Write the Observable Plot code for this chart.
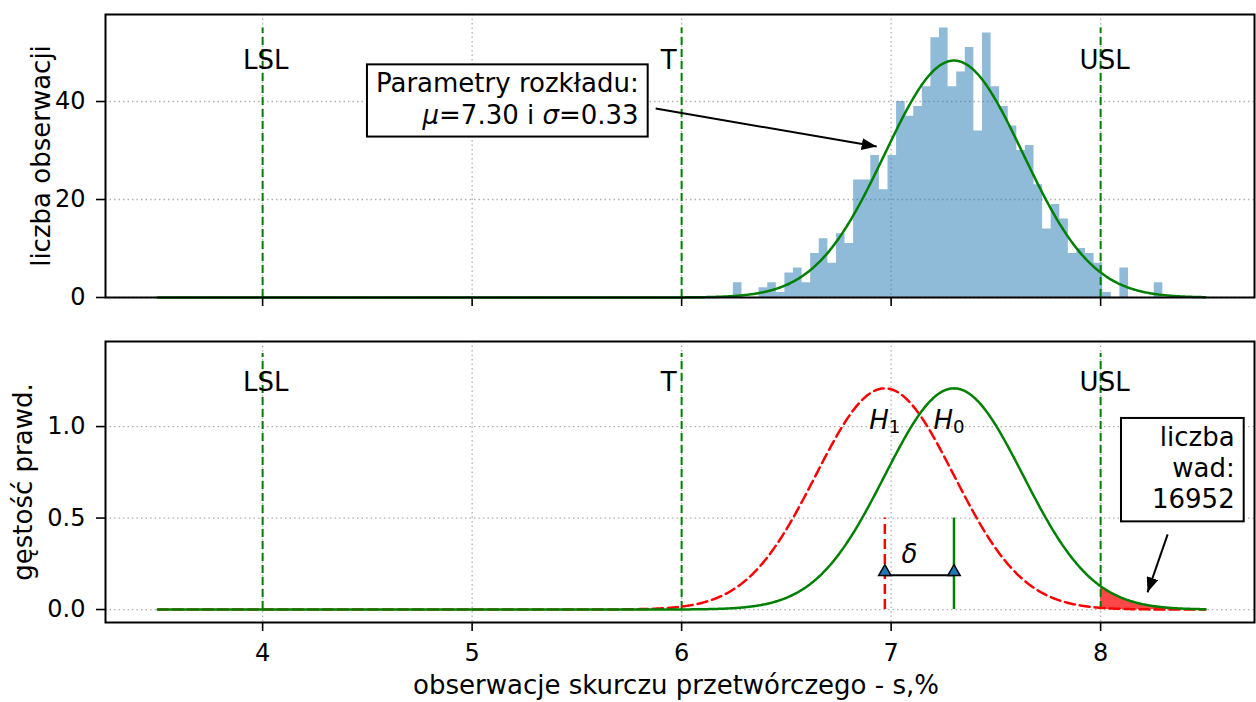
<!DOCTYPE html>
<html><head><meta charset="utf-8">
<script src="https://cdn.jsdelivr.net/npm/d3@7"></script>
<script src="https://cdn.jsdelivr.net/npm/@observablehq/plot@0.6"></script>
<style>
html,body{margin:0;padding:0;background:#fff;}
#chart{width:1256px;height:702px;overflow:hidden;}
#chart svg{display:block;}
</style></head><body><div id="chart"></div>
<script>
// ---------------- data ----------------
const binStart = 6.247;          // left edge of first histogram bin
const binWidth = 0.041;          // histogram bin width
const binCounts = [3,0,0,2,3,1,5,6,3,9,12,7,13,11,24,24,29,22,29,40,37,39,43,53,55,43,46,51,34,54,43,39,35,30,31,23,14,19,16,9,10,9,7,1,0,6,0,0,0,3];
const mu0 = 7.30;                // H0 mean (fitted)
const mu1 = 6.97;                // H1 mean (shifted)
const sigma = 0.33;
const countScale = 40;           // n * bin width used for the fitted curve
const curveRange = [3.5, 8.5];
const specX = [4, 6, 8];
const specLabels = ["LSL", "T", "USL"];
const defects = 16952;
const xTicks = [4, 5, 6, 7, 8];
const yTicksTop = [0, 20, 40];
const yTicksBottom = [0, 0.5, 1.0];
const xLabel = "obserwacje skurczu przetwórczego - s,%";
const yLabelTop = "liczba obserwacji";
const yLabelBottom = "gęstość prawd.";

// ---------------- derived tables ----------------
const pdf = (x, m) => Math.exp(-0.5 * ((x - m) / sigma) ** 2) / (sigma * Math.sqrt(2 * Math.PI));
const xs = d3.range(0, 1001).map(i => curveRange[0] + i * (curveRange[1] - curveRange[0]) / 1000);
const histSteps = binCounts.map((c, i) => ({x: binStart + i * binWidth, y: c}))
  .concat([{x: binStart + binCounts.length * binWidth, y: 0}]);
const fitTop = xs.map(x => ({x, y: countScale * pdf(x, mu0)}));
const h0 = xs.map(x => ({x, y: pdf(x, mu0)}));
const h1 = xs.map(x => ({x, y: pdf(x, mu1)}));
const tail = h0.filter(d => d.x >= specX[2] - 1e-9);

// ---------------- layout / style ----------------
const F = "DejaVu Sans, sans-serif";
const FS = 26, TFS = 24;
const W = 1256;
const xDomain = [3.25, 8.7345];
const gridStyle = {stroke: "#b0b0b0", strokeOpacity: 1, strokeDasharray: "1.5,3", strokeWidth: 1.3};
const specStyle = {stroke: "green", strokeWidth: 2, strokeDasharray: "8,4"};
const specDx = [3, -13, 4];
const common = {
  width: W, marginLeft: 105, marginRight: 2,
  style: {fontFamily: F, fontSize: FS + "px", background: "white", overflow: "visible", color: "black"}
};
const axisY = (ticks, fmt) => Plot.axisY(ticks, {tickSize: 9, tickPadding: 11, tickFormat: fmt, fontSize: TFS, strokeWidth: 1.6, label: null});

const topMax = d3.max(binCounts);
const topPlot = Plot.plot({
  ...common, height: 320, marginTop: 14, marginBottom: 23,
  x: {domain: xDomain}, y: {domain: [0, 57.76]},
  marks: [
    Plot.gridX(xTicks, gridStyle),
    Plot.gridY(yTicksTop, gridStyle),
    Plot.areaY(histSteps, {x: "x", y: "y", curve: "step-after", fill: "#1f77b4", fillOpacity: 0.5}),
    Plot.ruleX(specX, {y1: 0, y2: topMax, ...specStyle}),
    Plot.line(fitTop, {x: "x", y: "y", stroke: "green", strokeWidth: 2.5}),
    ...specLabels.map((t, i) => Plot.text([t], {x: specX[i], y: 48.4, dx: specDx[i], fontSize: FS, lineAnchor: "middle"})),
    Plot.text([`Parametry rozkładu:\nμ=${mu0.toFixed(2)} i σ=${sigma.toFixed(2)}`],
      {x: 5.795, y: 35.5, textAnchor: "end", lineAnchor: "bottom", lineHeight: 1.2, fontSize: FS, fill: "#000001"}),
    Plot.link([{x1: 5.876, y1: 38.57, x2: 6.931, y2: 30.8}], {x1: "x1", y1: "y1", x2: "x2", y2: "y2", stroke: "#010101", strokeWidth: 2}),
    Plot.axisX(xTicks, {tickSize: 9, tickFormat: () => "", strokeWidth: 1.6, label: null}),
    axisY(yTicksTop, d => d),
    Plot.frame({stroke: "black", strokeWidth: 2}),
    Plot.text([yLabelTop], {frameAnchor: "left", rotate: -90, dx: -56, lineAnchor: "bottom", textAnchor: "middle", fontSize: FS})
  ]
});

const bottomPlot = Plot.plot({
  ...common, height: 382, marginTop: 21, marginBottom: 80,
  x: {domain: xDomain}, y: {domain: [-0.0709, 1.465]},
  marks: [
    Plot.gridX(xTicks, gridStyle),
    Plot.gridY(yTicksBottom, gridStyle),
    Plot.areaY(tail, {x: "x", y: "y", fill: "red", fillOpacity: 0.72}),
    Plot.ruleX(specX, {y1: 0, y2: 1.4, ...specStyle}),
    Plot.line(h1, {x: "x", y: "y", stroke: "red", strokeWidth: 2.5, strokeDasharray: "10,5"}),
    Plot.line(h0, {x: "x", y: "y", stroke: "green", strokeWidth: 2.5}),
    Plot.ruleX([mu1], {y1: 0, y2: 0.5, stroke: "red", strokeWidth: 2.5, strokeDasharray: "10,5"}),
    Plot.ruleX([mu0], {y1: 0, y2: 0.5, stroke: "green", strokeWidth: 2.5}),
    Plot.ruleY([0.187], {x1: mu1, x2: mu0, stroke: "black", strokeWidth: 2}),
    Plot.dot([mu1, mu0], {x: d => d, y: 0.206, symbol: "triangle", r: 4.6, fill: "#1f77b4", stroke: "black", strokeWidth: 1.5}),
    ...specLabels.map((t, i) => Plot.text([t], {x: specX[i], y: 1.24, dx: specDx[i], fontSize: FS, lineAnchor: "middle"})),
    Plot.text(["H1"], {x: mu1, y: 1.033, fontSize: FS, lineAnchor: "middle"}),
    Plot.text(["H0"], {x: mu0, y: 1.033, dx: -5, fontSize: FS, lineAnchor: "middle"}),
    Plot.text(["δ"], {x: (mu0 + mu1) / 2, y: 0.30, dx: -10, fontSize: FS, fontStyle: "italic", lineAnchor: "middle"}),
    Plot.text([`liczba\nwad:\n${defects}`],
      {x: 8.640, y: 0.553, textAnchor: "end", lineAnchor: "bottom", lineHeight: 1.2, fontSize: FS, fill: "#000001"}),
    Plot.link([{x1: 8.320, y1: 0.411, x2: 8.224, y2: 0.094}], {x1: "x1", y1: "y1", x2: "x2", y2: "y2", stroke: "#010101", strokeWidth: 2}),
    Plot.axisX(xTicks, {tickSize: 9, tickPadding: 12, tickFormat: d => d, fontSize: TFS, strokeWidth: 1.6, label: null}),
    axisY(yTicksBottom, d3.format(".1f")),
    Plot.frame({stroke: "black", strokeWidth: 2}),
    Plot.text([yLabelBottom], {frameAnchor: "left", rotate: -90, dx: -74, lineAnchor: "bottom", textAnchor: "middle", fontSize: FS}),
    Plot.text([xLabel], {frameAnchor: "bottom", dy: 71, dx: -4, lineAnchor: "bottom", textAnchor: "middle", fontSize: FS})
  ]
});

const chart = document.getElementById("chart");
chart.appendChild(topPlot);
chart.appendChild(bottomPlot);

// ---------------- finishing touches (arrowheads, rich text, boxes) ----------------
const NS = "http://www.w3.org/2000/svg";
function rich(el, parts) {
  while (el.firstChild) el.removeChild(el.firstChild);
  for (const p of parts) {
    if (typeof p === "string") { el.appendChild(document.createTextNode(p)); continue; }
    const t = document.createElementNS(NS, "tspan");
    t.textContent = p.t;
    if (p.i) t.setAttribute("font-style", "italic");
    if (p.sub) { t.setAttribute("font-size", "0.7em"); t.setAttribute("dy", "0.25em"); }
    el.appendChild(t);
  }
}
function finish(svg, id, pad) {
  const s = d3.select(svg);
  let defs = s.select("defs");
  if (defs.empty()) defs = s.insert("defs", ":first-child");
  defs.append("marker").attr("id", id).attr("markerUnits", "userSpaceOnUse")
    .attr("viewBox", "0 -6 15 12").attr("markerWidth", 15).attr("markerHeight", 12)
    .attr("refX", 15).attr("refY", 0).attr("orient", "auto")
    .append("path").attr("d", "M0,-6L15,0L0,6Z").attr("fill", "black");
  s.selectAll('g[stroke="#010101"] path').attr("marker-end", `url(#${id})`);
  s.selectAll("text, tspan").each(function () {
    if (this.querySelector && this.querySelector("tspan")) return;
    const c = this.textContent;
    if (c === "H1" || c === "H0") rich(this, [{t: "H", i: true}, {t: c[1], sub: true}]);
    else if (c.startsWith("μ=")) {
      const [a, b] = c.slice(2).split(" i σ=");
      rich(this, [{t: "μ", i: true}, "=" + a + " i ", {t: "σ", i: true}, "=" + b]);
    }
  });
  const sr = svg.getBoundingClientRect();
  s.selectAll('g[fill="#000001"] text').each(function () {
    const r = this.getBoundingClientRect();
    const g = this.closest("g");
    const rect = document.createElementNS(NS, "rect");
    rect.setAttribute("x", r.left - sr.left - pad[0]);
    rect.setAttribute("y", r.top - sr.top - pad[2]);
    rect.setAttribute("width", r.width + pad[0] + pad[1]);
    rect.setAttribute("height", r.height + pad[2] + pad[3]);
    rect.setAttribute("fill", "white");
    rect.setAttribute("stroke", "black");
    rect.setAttribute("stroke-width", 2);
    g.parentNode.insertBefore(rect, g);
  });
}
finish(topPlot, "ahTop", [9, 9, 4, 7]);
finish(bottomPlot, "ahBot", [31, 9, 4, 7]);
</script>
</body></html>
